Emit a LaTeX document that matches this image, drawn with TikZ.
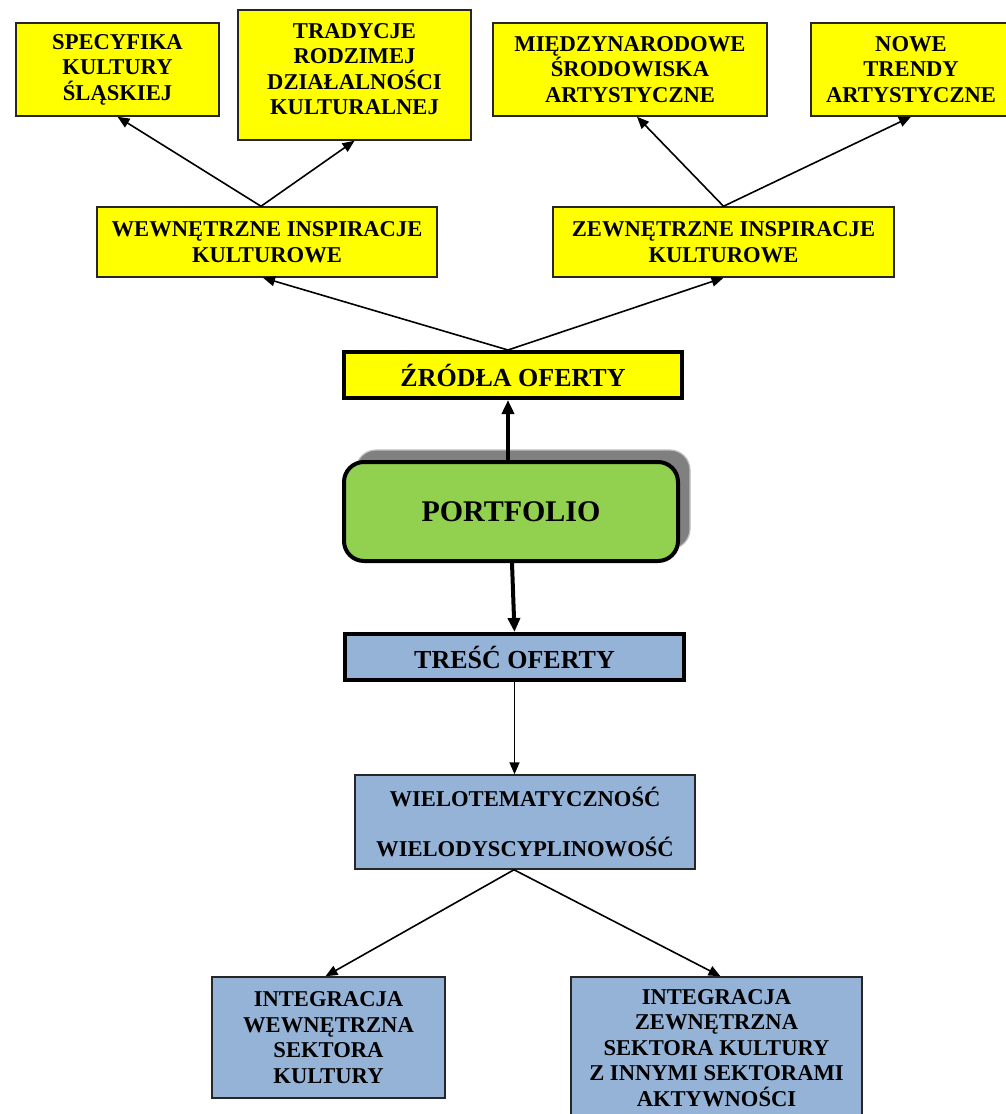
\documentclass[tikz,border=0pt]{standalone}
\usepackage{fontspec}
\setmainfont{Liberation Serif}
\usetikzlibrary{arrows.meta,shadows,calc}
\definecolor{boxyellow}{RGB}{255,255,0}
\definecolor{boxgreen}{RGB}{146,208,80}
\definecolor{boxblue}{RGB}{149,179,215}
\definecolor{shadowgray}{RGB}{128,128,128}
\begin{document}
\begin{tikzpicture}[x=1pt,y=-1pt,
  base/.style={draw=black!85, line width=1.5pt, align=center, inner sep=0pt,
    font=\bfseries\fontsize{22.6}{25.5}\selectfont},
  ybox/.style={base, fill=boxyellow},
  bbox/.style={base, fill=boxblue},
  heavybox/.style={base, line width=4pt, draw=black, font=\bfseries\fontsize{26}{30}\selectfont},
  txt/.style={align=center, inner sep=0pt, font=\bfseries\fontsize{22.6}{25.5}\selectfont},
  link/.style={line width=1.6pt, -{Triangle[length=12pt,width=10pt]}},
  hlink/.style={line width=4pt, -{Triangle[length=14pt,width=12pt]}},
]
\clip (0,0) rectangle (1006,1114);
\useasboundingbox (0,0) rectangle (1006,1114);

% top row: sources of inspiration
\node[ybox, minimum width=203, minimum height=93] (spec) at (117.5,69.5)
  {SPECYFIKA\\KULTURY\\ŚLĄSKIEJ};
\node[ybox, minimum width=233, minimum height=130] (trad) at (354.5,75) {};
\node[txt] (tradtxt) at (354.5,69)
  {TRADYCJE\\RODZIMEJ\\DZIAŁALNOŚCI\\KULTURALNEJ};
\node[ybox, minimum width=274, minimum height=93] (miedz) at (630,69.5)
  {MIĘDZYNARODOWE\\ŚRODOWISKA\\ARTYSTYCZNE};
\node[ybox, minimum width=200, minimum height=93] (nowe) at (911,69.5)
  {NOWE\\TRENDY\\ARTYSTYCZNE};

% second row
\node[ybox, minimum width=340, minimum height=70] (wewn) at (267,242)
  {WEWNĘTRZNE INSPIRACJE\\KULTUROWE};
\node[ybox, minimum width=341, minimum height=70] (zewn) at (723.5,242)
  {ZEWNĘTRZNE INSPIRACJE\\KULTUROWE};

% centre column
\node[heavybox, fill=boxyellow, minimum width=338, minimum height=46] (zrodla) at (513,375)
  {ŹRÓDŁA OFERTY};
\node[heavybox, fill=boxgreen, minimum width=334, minimum height=99, rounded corners=20pt,
  font=\bfseries\fontsize{30}{34}\selectfont,
  copy shadow={shadow xshift=12pt, shadow yshift=12pt, fill=shadowgray, draw=black!25, line width=1.2pt}]
  (port) at (511,511.5) {PORTFOLIO};
\node[heavybox, fill=boxblue, minimum width=339, minimum height=46] (tresc) at (514.5,657)
  {TREŚĆ OFERTY};

% lower part
\node[bbox, minimum width=340, minimum height=94] (wielo) at (525,822)
  {WIELOTEMATYCZNOŚĆ\\[25pt]WIELODYSCYPLINOWOŚĆ};
\node[bbox, minimum width=233, minimum height=121] (intw) at (328.5,1037.5)
  {INTEGRACJA\\WEWNĘTRZNA\\SEKTORA\\KULTURY};
\node[bbox, minimum width=291, minimum height=142] (intz) at (716.5,1048)
  {INTEGRACJA\\ZEWNĘTRZNA\\SEKTORA KULTURY\\Z INNYMI SEKTORAMI\\AKTYWNOŚCI};

% connectors
\draw[link] ($(wewn.north)+(-6,0)$) -- (spec.south);
\draw[link] ($(wewn.north)+(-6,0)$) -- (trad.south);
\draw[link] (zewn.north) -- ($(miedz.south)+(7,0)$);
\draw[link] (zewn.north) -- (nowe.south);
\draw[link] ($(zrodla.north)+(-5,0)$) -- ($(wewn.south)+(-4,0)$);
\draw[link] ($(zrodla.north)+(-5,0)$) -- (zewn.south);
\draw[hlink] ($(port.north)+(-3,0)$) -- ($(zrodla.south)+(-5,0)$);
\draw[hlink] ($(port.south)+(1,0)$) -- (tresc.south |- tresc.north);
\draw[link] (tresc.south) -- (tresc.south |- wielo.north);
\draw[link] ($(wielo.south)+(-11,0)$) -- ($(intw.north)+(-3,0)$);
\draw[link] ($(wielo.south)+(-11,0)$) -- ($(intz.north)+(4,0)$);
\end{tikzpicture}
\end{document}
